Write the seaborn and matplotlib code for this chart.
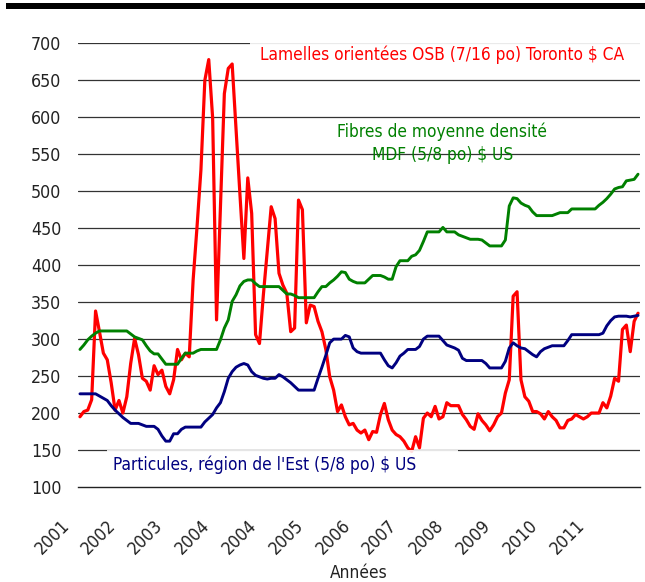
import numpy as np
import pandas as pd
import matplotlib
matplotlib.use("Agg")
import matplotlib.pyplot as plt
from matplotlib.patches import Rectangle
from matplotlib.transforms import ScaledTranslation
import seaborn as sns

# Monthly prices, January 2001 onwards (144 months)
osb = [195, 202, 204, 218, 338, 310, 281, 272, 241, 204,
       217, 200, 222, 267, 301, 279, 247, 243, 231, 264,
       252, 258, 236, 226, 245, 286, 272, 281, 276, 380,
       452, 529, 650, 678, 599, 326, 479, 632, 666, 672,
       583, 495, 409, 518, 470, 306, 294, 360, 420, 479,
       463, 389, 373, 362, 310, 315, 488, 475, 322, 346,
       344, 324, 310, 286, 249, 231, 202, 211, 195, 184,
       186, 177, 173, 177, 164, 175, 174, 198, 213, 191,
       177, 171, 168, 162, 153, 148, 168, 153, 193, 200,
       195, 209, 192, 195, 214, 210, 210, 210, 198, 191,
       182, 178, 199, 190, 184, 176, 184, 195, 200, 227,
       245, 358, 364, 245, 222, 216, 202, 202, 199, 192,
       202, 195, 190, 180, 180, 190, 192, 198, 195, 192,
       195, 200, 200, 200, 214, 207, 223, 247, 243, 313,
       319, 283, 324, 335]

mdf = [286, 292, 299, 304, 308, 311, 311, 311, 311, 311,
       311, 311, 311, 307, 303, 301, 299, 291, 284, 280,
       280, 273, 266, 266, 266, 266, 274, 281, 281, 281,
       284, 286, 286, 286, 286, 286, 299, 315, 326, 351,
       360, 372, 378, 380, 380, 375, 371, 371, 371, 371,
       371, 371, 366, 361, 361, 359, 356, 356, 356, 356,
       356, 364, 371, 371, 376, 380, 385, 391, 390, 381,
       378, 376, 376, 376, 381, 386, 386, 386, 384, 381,
       381, 398, 406, 406, 406, 412, 414, 420, 432, 445,
       445, 445, 445, 451, 445, 445, 445, 441, 439, 437,
       435, 435, 435, 434, 430, 426, 426, 426, 426, 434,
       480, 491, 490, 484, 481, 479, 472, 467, 467, 467,
       467, 467, 469, 471, 471, 471, 476, 476, 476, 476,
       476, 476, 476, 481, 485, 490, 496, 503, 505, 506,
       514, 515, 516, 523]

particules = [226, 226, 226, 226, 226, 223, 220, 217, 210, 204,
              199, 194, 190, 186, 186, 186, 184, 182, 182, 182,
              178, 169, 162, 162, 172, 172, 178, 181, 181, 181,
              181, 181, 188, 193, 198, 207, 214, 229, 247, 256,
              262, 265, 267, 265, 256, 251, 249, 247, 246, 247,
              247, 252, 249, 245, 241, 236, 231, 231, 231, 231,
              231, 247, 262, 278, 295, 300, 300, 300, 305, 303,
              288, 283, 281, 281, 281, 281, 281, 281, 272, 264,
              261, 268, 277, 281, 286, 286, 286, 290, 300, 304,
              304, 304, 304, 298, 292, 290, 288, 285, 274, 271,
              271, 271, 271, 271, 267, 261, 261, 261, 261, 270,
              288, 295, 291, 288, 287, 283, 279, 276, 283, 287,
              289, 291, 291, 291, 291, 298, 306, 306, 306, 306,
              306, 306, 306, 306, 308, 318, 325, 330, 331, 331,
              331, 330, 331, 332]

annees = ["2001", "2002", "2003", "2004", "2004", "2005", "2006",
          "2007", "2008", "2009", "2010", "2011", ""]

lbl_osb = "Lamelles orientées OSB (7/16 po) Toronto $ CA"
lbl_mdf = "Fibres de moyenne densité\nMDF (5/8 po) $ US"
lbl_part = "Particules, région de l'Est (5/8 po) $ US"

RED, GREEN, NAVY = "#FF0000", "#008000", "#000080"
FS_TICK = 12.8
FS_LBL = 12.4

sns.set_style("white")
plt.rcParams["font.family"] = ["DejaVu Sans"]
plt.rcParams["font.stretch"] = "condensed"

mois = np.arange(len(osb)) + 0.5
df = pd.DataFrame({"mois": mois, "osb": osb, "mdf": mdf, "part": particules})

fig = plt.figure(figsize=(6.45, 5.82), dpi=100)
ax = fig.add_axes([78 / 645, 1 - 487 / 582, 562 / 645, 443.7 / 582])

sns.lineplot(data=df, x="mois", y="osb", color=RED, lw=2.3, ax=ax, zorder=3)
sns.lineplot(data=df, x="mois", y="mdf", color=GREEN, lw=2.1, ax=ax, zorder=3)
sns.lineplot(data=df, x="mois", y="part", color=NAVY, lw=2.1, ax=ax, zorder=3)

ax.set_xlim(0, 144)
ax.set_ylim(100, 700)
ax.set_yticks(range(100, 701, 50))
ax.set_xticks(range(0, 145, 12))
ax.set_xticklabels(annees, rotation=45, ha="right", va="top")
ax.set_xlabel("")
ax.set_ylabel("")

for y in range(150, 701, 50):
    ax.axhline(y, color="#333333", lw=0.9, zorder=1)

for s in ["left", "right", "top"]:
    ax.spines[s].set_visible(False)
ax.spines["bottom"].set_color("#222222")
ax.spines["bottom"].set_linewidth(1.0)

ax.tick_params(axis="y", length=0, pad=12, labelsize=FS_TICK, labelcolor="#222222")
ax.tick_params(axis="x", direction="out", length=6, width=1.0, color="#222222",
               pad=15, labelsize=FS_TICK, labelcolor="#222222")
shift = ScaledTranslation(-5 / 100, 0, fig.dpi_scale_trans)
for t in ax.get_xticklabels():
    t.set_transform(t.get_transform() + shift)

# Label boxes
ax.add_patch(Rectangle((44.1, 661), 100, 39, facecolor="white", alpha=0.9,
                       edgecolor="none", zorder=2, clip_on=False))
ax.text(93.3, 684, lbl_osb, color=RED, fontsize=FS_LBL, ha="center", va="center", zorder=4)

ax.text(93.3, 565, lbl_mdf, color=GREEN, fontsize=FS_LBL, ha="center", va="center",
        linespacing=1.4, zorder=4)

ax.add_patch(Rectangle((7.4, 106), 90, 44, facecolor="white", alpha=0.88,
                       edgecolor="none", zorder=3.5))
ax.text(47.9, 130, lbl_part, color=NAVY, fontsize=FS_LBL, ha="center", va="center", zorder=4)

fig.text(359 / 645, 1 - 578 / 582, "Années", fontsize=FS_LBL, color="#222222",
         ha="center", va="baseline")

fig.add_artist(Rectangle((6 / 645, 1 - 9 / 582), 639 / 645, 6 / 582,
                         transform=fig.transFigure, facecolor="black", edgecolor="none"))

fig.savefig("out.png", dpi=100)
